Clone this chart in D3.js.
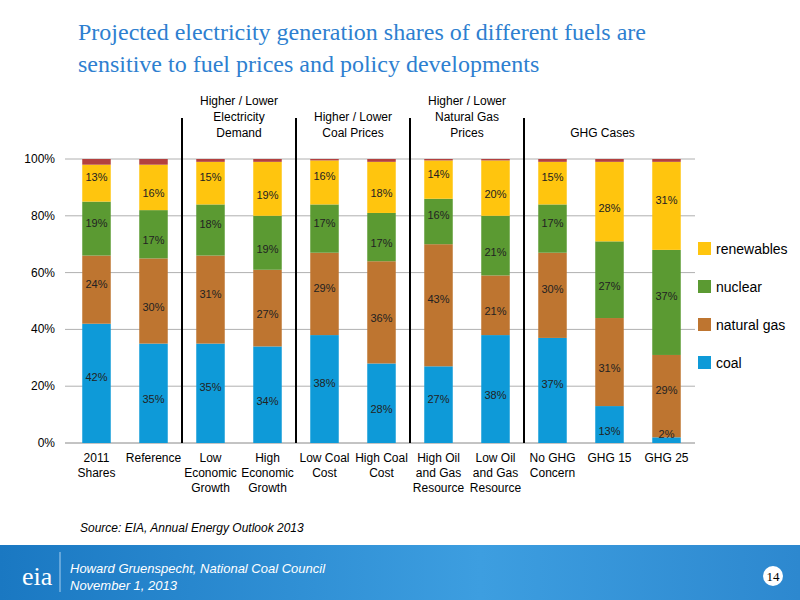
<!DOCTYPE html>
<html><head><meta charset="utf-8">
<script src="https://cdn.jsdelivr.net/npm/d3@7"></script>
<style>body{margin:0;background:#fff}svg{display:block}</style>
</head><body><svg id="c" width="800" height="600"></svg>
<script>
const categories = ["2011\nShares","Reference","Low\nEconomic\nGrowth","High\nEconomic\nGrowth","Low Coal\nCost","High Coal\nCost","High Oil\nand Gas\nResource","Low Oil\nand Gas\nResource","No GHG\nConcern","GHG 15","GHG 25"];
const coal       = [42,35,35,34,38,28,27,38,37,13,2];
const naturalGas = [24,30,31,27,29,36,43,21,30,31,29];
const nuclear    = [19,17,18,19,17,17,16,21,17,27,37];
const renewables = [13,16,15,19,15.5,18,13.5,19.5,15,28,31];
const other      = [2,2,1,1,0.5,1,0.5,0.5,1,1,1];
const renewLabels = [13,16,15,19,16,18,14,20,15,28,31];
const yTicks = [0,20,40,60,80,100];
const groupLabels = [["Higher / Lower","Electricity","Demand"],["Higher / Lower","Coal Prices"],["Higher / Lower","Natural Gas","Prices"],["GHG Cases"]];

const svg = d3.select("#c");
const defs = svg.append("defs");
const g1 = defs.append("linearGradient").attr("id","ft").attr("x1","0").attr("x2","1");
g1.append("stop").attr("offset","0").attr("stop-color","#1a78c2");
g1.append("stop").attr("offset","0.6").attr("stop-color","#3d9ee0");
g1.append("stop").attr("offset","1").attr("stop-color","#2d88cf");
svg.append("rect").attr("x",0).attr("y",545).attr("width",800).attr("height",55).attr("fill","url(#ft)");
svg.append("line").attr("x1",60).attr("x2",60).attr("y1",552).attr("y2",592).attr("stroke","#a8d0f0");
svg.append("text").attr("x",22).attr("y",585).attr("fill","#fff").attr("font-family","Liberation Serif").attr("font-size",26).text("eia");
svg.append("text").attr("x",70).attr("y",573).attr("fill","#fff").attr("font-family","Liberation Sans").attr("font-style","italic").attr("font-size",13).text("Howard Gruenspecht, National Coal Council");
svg.append("text").attr("x",70).attr("y",590).attr("fill","#fff").attr("font-family","Liberation Sans").attr("font-style","italic").attr("font-size",13).text("November 1, 2013");
svg.append("circle").attr("cx",773).attr("cy",576).attr("r",10).attr("fill","#fff");
svg.append("text").attr("x",773).attr("y",581).attr("text-anchor","middle").attr("font-family","Liberation Serif").attr("font-size",13).text("14");

const title = svg.append("text").attr("fill","#2e7fd0").attr("font-family","Liberation Serif").attr("font-size",24);
title.append("tspan").attr("x",78).attr("y",40).text("Projected electricity generation shares of different fuels are");
title.append("tspan").attr("x",78).attr("y",72).text("sensitive to fuel prices and policy developments");
svg.append("text").attr("x",80).attr("y",532).attr("font-family","Liberation Sans").attr("font-style","italic").attr("font-size",12).text("Source:  EIA, Annual Energy Outlook 2013");

const x = d3.scaleBand().domain(d3.range(categories.length)).range([68,695]).paddingInner(0.5).paddingOuter(0.25);
const y = d3.scaleLinear().domain([0,100]).range([443,159]);
const font = "Liberation Sans";

svg.append("g").selectAll("line").data(yTicks.slice(1)).join("line")
  .attr("x1",65).attr("x2",695).attr("y1",d=>y(d)).attr("y2",d=>y(d)).attr("stroke","#b0b0b0");
svg.append("g").selectAll("text").data(yTicks).join("text")
  .attr("x",55).attr("y",d=>y(d)+4).attr("text-anchor","end").attr("font-family",font).attr("font-size",12).text(d=>d+"%");
svg.append("line").attr("x1",65).attr("x2",695).attr("y1",y(0)).attr("y2",y(0)).attr("stroke","#888");

const keys = ["coal","naturalGas","nuclear","renewables","other"];
const rows = categories.map((c,i)=>({i,coal:coal[i],naturalGas:naturalGas[i],nuclear:nuclear[i],renewables:renewables[i],other:other[i]}));
const stack = d3.stack().keys(keys)(rows);
const colors = {coal:"#0e9ad8",naturalGas:"#be7530",nuclear:"#5b9a32",renewables:"#ffc50e",other:"#b3403f"};
stack.forEach(s=>{
  svg.append("g").selectAll("rect").data(s).join("rect")
    .attr("x",d=>x(d.data.i)).attr("width",x.bandwidth())
    .attr("y",d=>y(d[1])).attr("height",d=>y(d[0])-y(d[1])).attr("fill",colors[s.key]);
});
const labelFor = {coal:coal, naturalGas:naturalGas, nuclear:nuclear, renewables:renewLabels};
const hide = {naturalGas:[3,5,7,9,10].map(String)};
stack.slice(0,4).forEach(s=>{
  svg.append("g").selectAll("text").data(s).join("text")
    .attr("x",d=>x(d.data.i)+x.bandwidth()/2)
    .attr("y",d=>{const m=(y(d[0])+y(d[1]))/2; return m+4+(d.data.i%2?6:-6);})
    .attr("text-anchor","middle").attr("font-family",font).attr("font-size",11).attr("fill","#222")
    .text(d=>Math.round(labelFor[s.key][d.data.i])+"%");
});

// dividers
const divs = [1.5,3.5,5.5,7.5].map(v=>(x(Math.floor(v))+x.bandwidth()+x(Math.ceil(v)))/2);
svg.append("g").selectAll("line").data(divs).join("line")
  .attr("x1",d=>d).attr("x2",d=>d).attr("y1",118).attr("y2",443).attr("stroke","#000").attr("stroke-width",2);
const gx = [x(2)+x.step()/2+x.bandwidth()/2- x.step()/2 + x.step()/2, 0,0,0];
const gCenters = [[2,3],[4,5],[6,7],[8,10]].map(([a,b])=>(x(a)+x(b)+x.bandwidth())/2);
const gY = [[105,121,137],[121,137],[105,121,137],[137]];
groupLabels.forEach((ls,k)=>{
  ls.forEach((t,j)=>svg.append("text").attr("x",gCenters[k]+(k==3?-7:0)).attr("y",gY[k][j]).attr("text-anchor","middle")
    .attr("font-family",font).attr("font-size",12).text(t));
});

// category labels
categories.forEach((c,i)=>{
  c.split("\n").forEach((t,j)=>svg.append("text").attr("x",x(i)+x.bandwidth()/2).attr("y",462+j*15)
    .attr("text-anchor","middle").attr("font-family",font).attr("font-size",12).text(t));
});

// legend
const leg = [["renewables","renewables"],["nuclear","nuclear"],["naturalGas","natural gas"],["coal","coal"]];
leg.forEach(([k,t],j)=>{
  const yy=250+j*38;
  svg.append("rect").attr("x",698).attr("y",yy-8).attr("width",13).attr("height",13).attr("fill",colors[k]);
  svg.append("text").attr("x",716).attr("y",yy+4).attr("font-family",font).attr("font-size",14).text(t);
});
</script></body></html>
